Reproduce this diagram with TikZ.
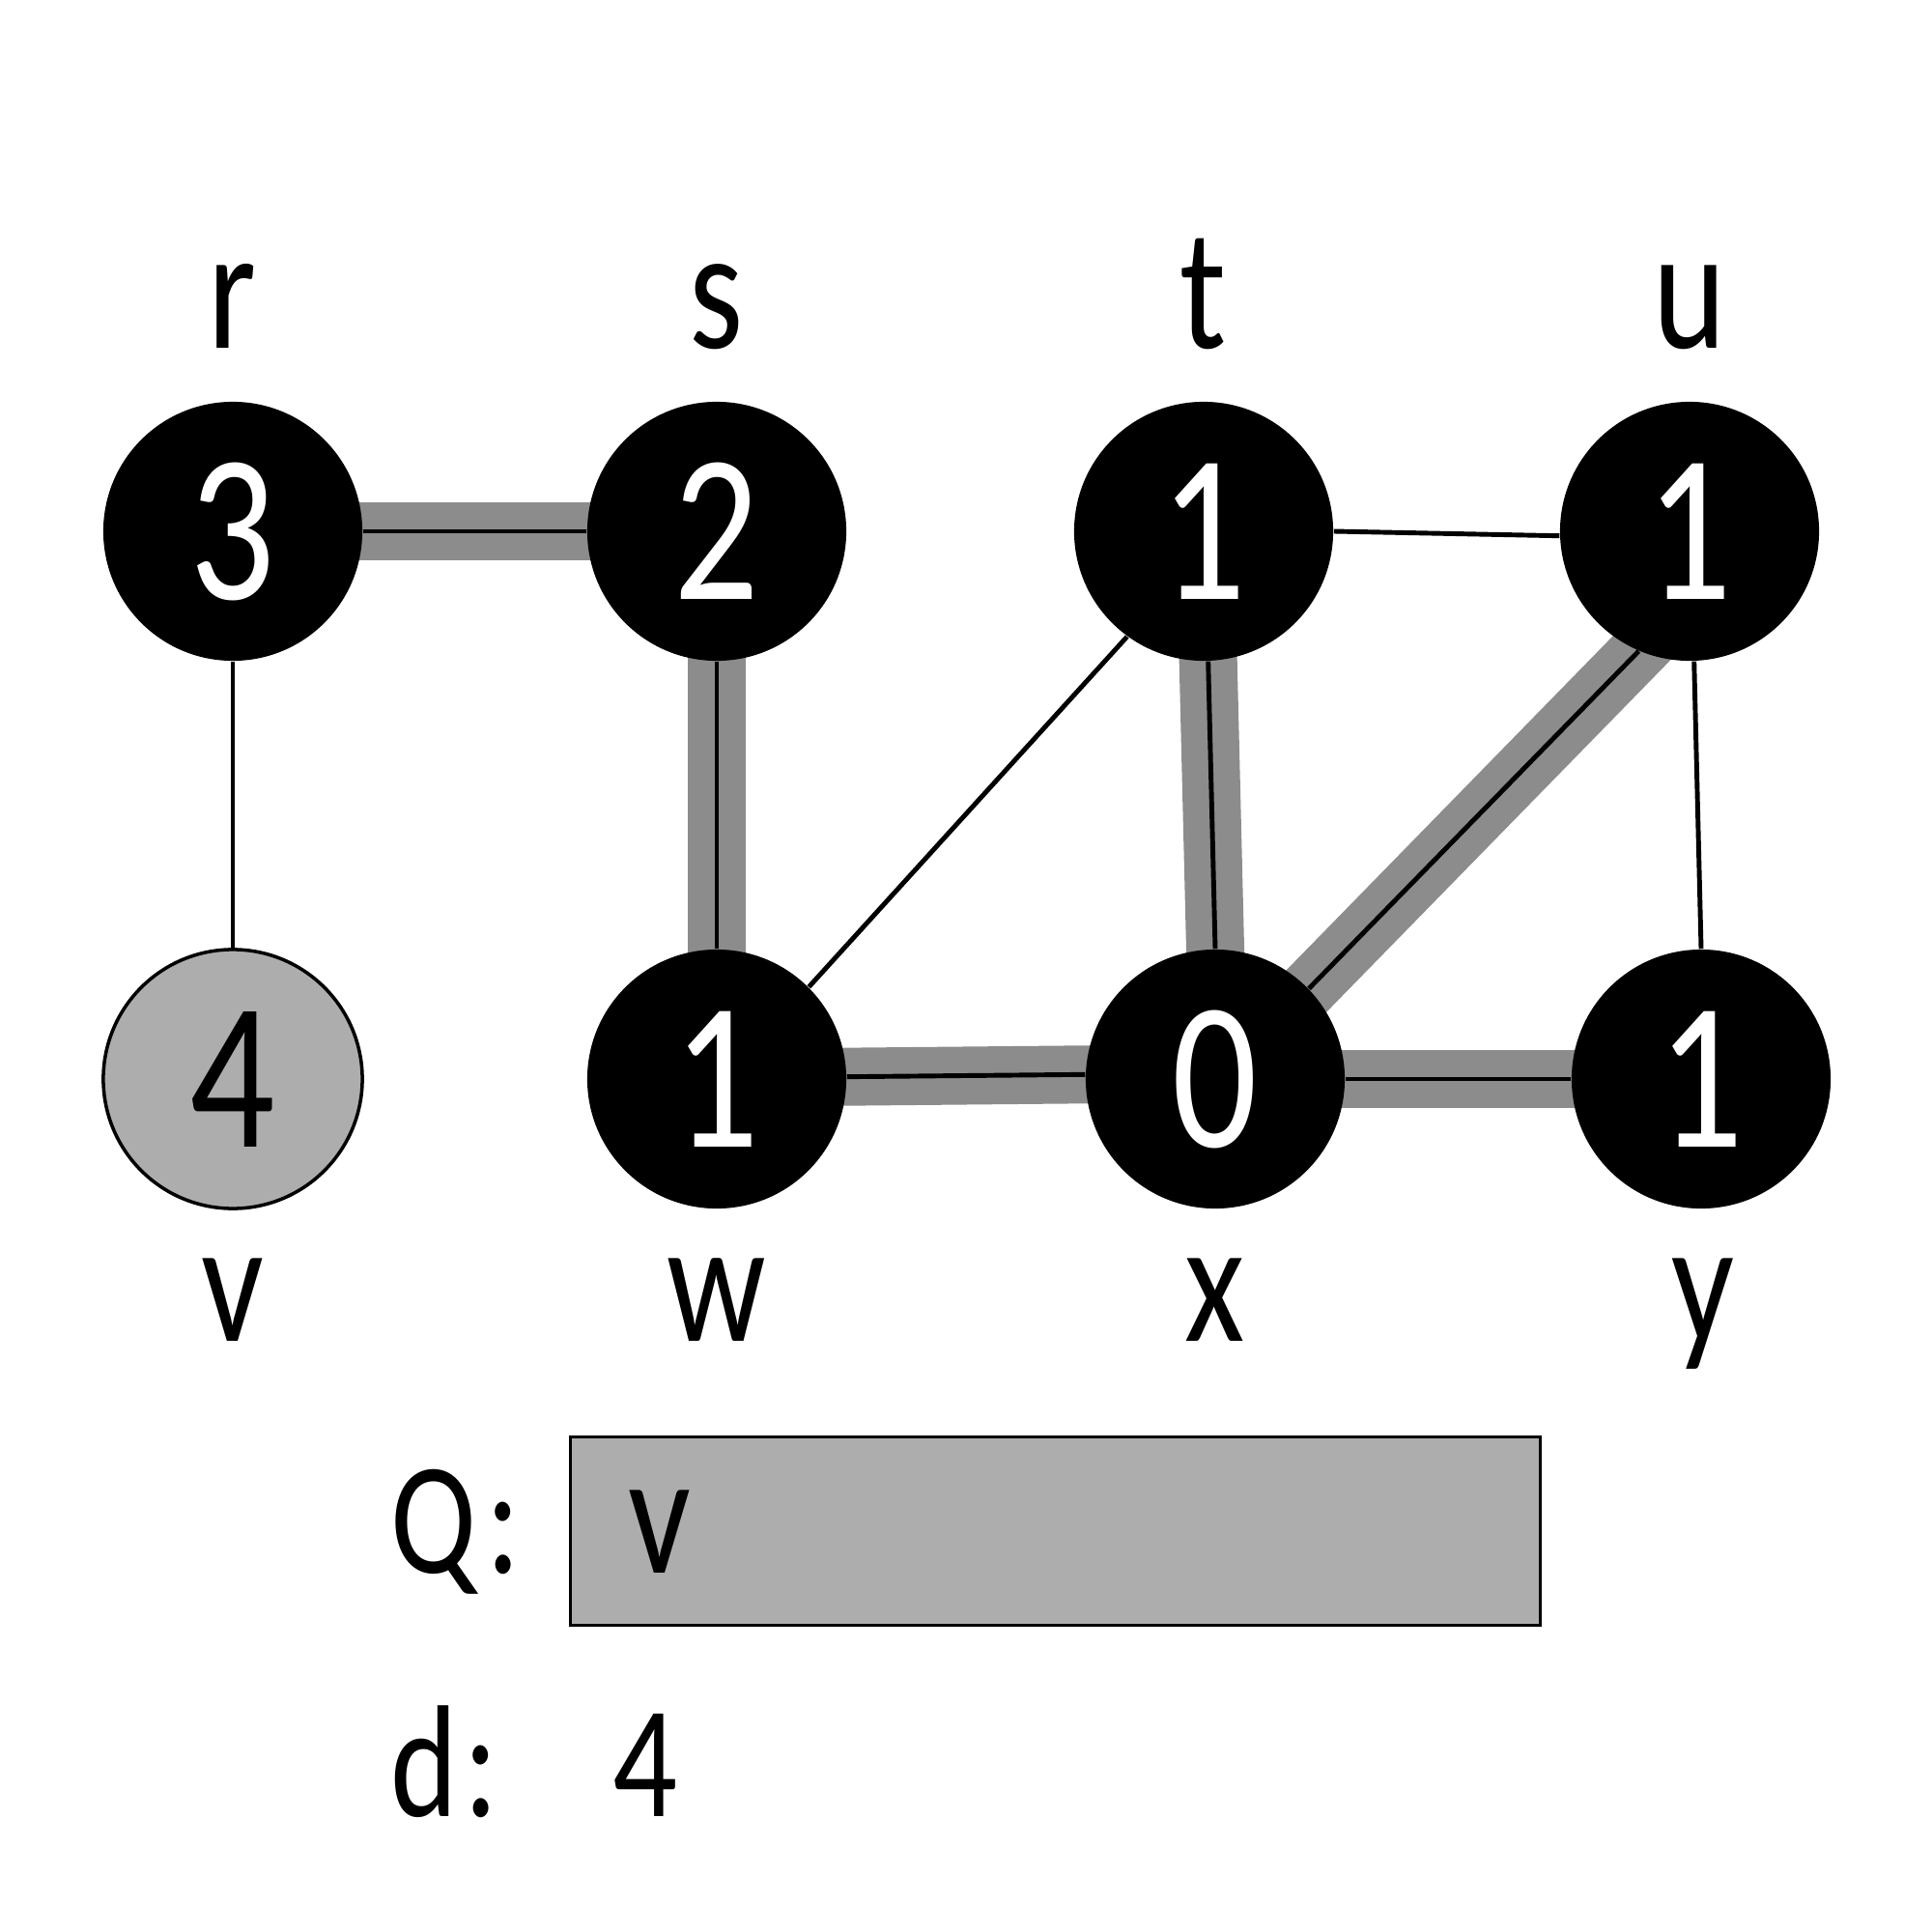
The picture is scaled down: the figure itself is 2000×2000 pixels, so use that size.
\documentclass[tikz,border=0pt]{standalone}
\usepackage{fontspec}
\setmainfont{Carlito}[FakeStretch=0.8]
\usetikzlibrary{backgrounds}
\definecolor{bandgrey}{HTML}{8C8C8C}
\definecolor{qgrey}{HTML}{ADADAD}
\begin{document}
\begin{tikzpicture}[x=0.01cm,y=-0.01cm,
  vert/.style={circle, fill=black, text=white, minimum size=2.68cm, inner sep=0pt,
    font=\fontsize{62}{62}\selectfont},
  vgrey/.style={vert, fill=qgrey, draw=black, line width=1pt, text=black},
  lbl/.style={anchor=base, inner sep=0pt, font=\fontsize{51}{51}\selectfont},
  rowlbl/.style={anchor=base west, inner sep=0pt, font=\fontsize{47}{47}\selectfont},
  band/.style={draw=bandgrey, line width=0.6cm, shorten <=-0.3cm, shorten >=-0.3cm},
  thin/.style={draw=black, line width=1.4pt}]
\useasboundingbox (0,0) rectangle (2000,2000);

\node[vert] (r) at (241,550) {3};
\node[vert] (s) at (742,550) {2};
\node[vert] (t) at (1246,550) {1};
\node[vert] (u) at (1749,550) {1};
\node[vgrey] (v) at (241,1117) {4};
\node[vert] (w) at (742,1117) {1};
\node[vert] (x) at (1258,1117) {0};
\node[vert] (y) at (1761,1117) {1};

\node[lbl] (lr) at (241,360) {r};
\node[lbl] (ls) at (742,360) {s};
\node[lbl] (lt) at (1246,360) {t};
\node[lbl] (lu) at (1749,360) {u};
\node[lbl] (lv) at (241,1388) {v};
\node[lbl] (lw) at (742,1388) {w};
\node[lbl] (lx) at (1258,1388) {x};
\node[lbl] (ly) at (1763,1388) {y};

\begin{scope}[on background layer]
  % tree edges: grey band with a thin black line
  \draw[band] (r.0) -- (s.180);
  \draw[band] (s.270) -- (w.90);
  \draw[band] (t.272) -- (x.90);
  \draw[band] (u.247) -- (x.44);
  \draw[band] (w.1) -- (x.178);
  \draw[band] (x.0) -- (y.180);
  \draw[thin] (r.0) -- (s.180);
  \draw[thin] (s.270) -- (w.90);
  \draw[thin] (t.272) -- (x.90);
  \draw[thin] (u.247) -- (x.44);
  \draw[thin] (w.1) -- (x.178);
  \draw[thin] (x.0) -- (y.180);
  % other edges
  \draw[thin] (r.270) -- (v.90);
  \draw[thin] (t.0) -- (u.182);
  \draw[thin] (u.272) -- (y.90);
  \draw[thin] (w.45) -- (t.234);
\end{scope}

\node[draw=black, fill=qgrey, line width=0.9pt, minimum width=10.03cm, minimum height=1.95cm,
  inner sep=0pt, anchor=north west] (qbox) at (589,1486) {};
\node[rowlbl] (qlab) at (404,1628) {Q\kern0.06em:};
\node[rowlbl] (dlab) at (404,1880) {d\kern0.04em:};
\node[lbl, anchor=base west] (qv) at (650,1628) {v};
\node[rowlbl] (dval) at (634,1880) {4};
\end{tikzpicture}
\end{document}
